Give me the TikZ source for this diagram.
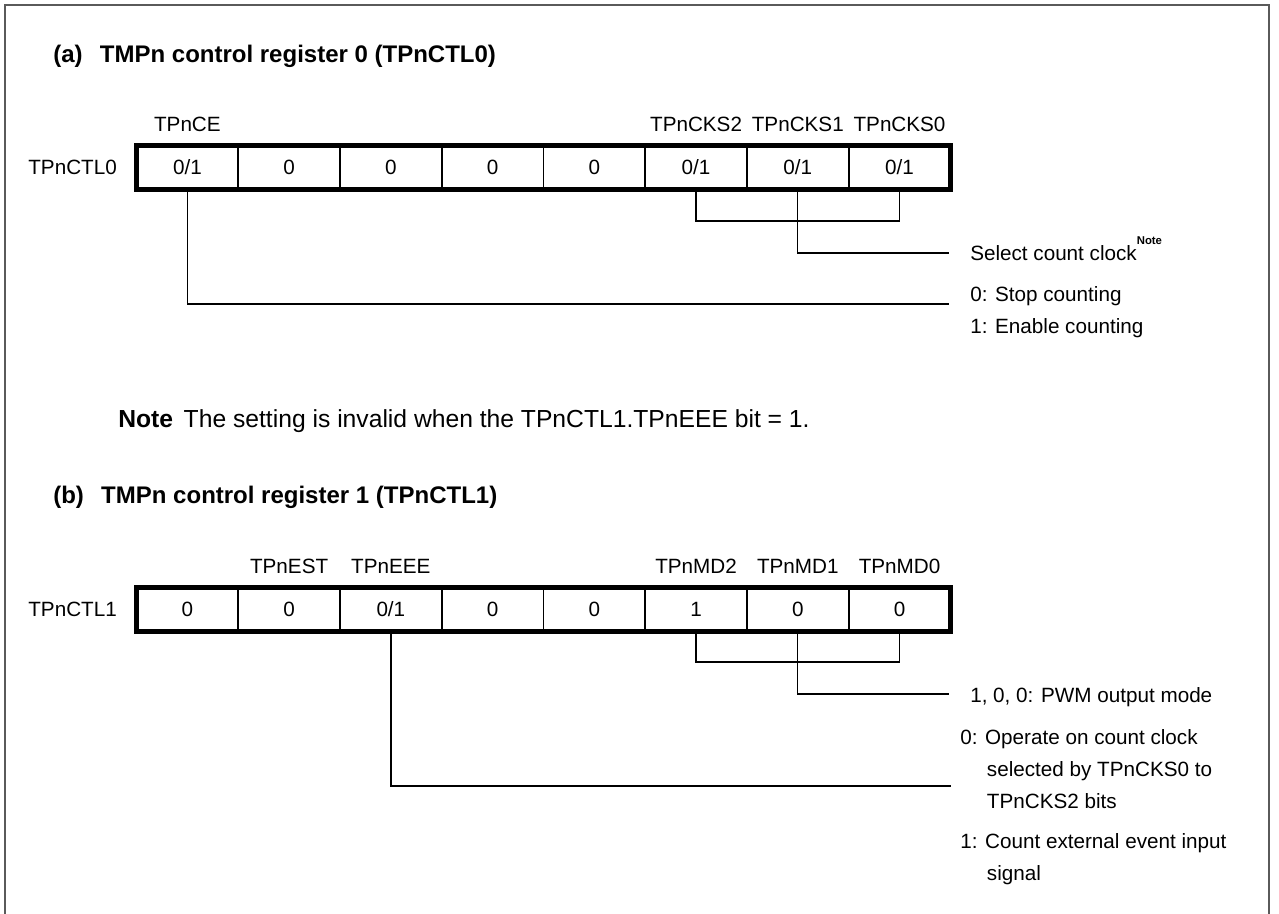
\documentclass[tikz,border=0pt]{standalone}
\usepackage{fontspec}
\setmainfont{Liberation Sans}
\usepackage{xcolor}
\usetikzlibrary{positioning}
\definecolor{framegray}{RGB}{90, 90, 90}

\begin{document}
\begin{tikzpicture}[
  x=0.75pt, y=-0.75pt,
  node distance=0pt,
  cell/.style={draw, line width=1.3pt, minimum width=76.3pt, minimum height=33pt,
               inner sep=0pt, outer sep=0pt, font=\fontsize{15.5}{18}\selectfont},
  bitname/.style={inner sep=0pt, text depth=0pt, font=\fontsize{15.5}{18}\selectfont},
  regname/.style={inner sep=0pt, font=\fontsize{15.5}{18}\selectfont},
  heading/.style={anchor=base west, inner sep=0pt, font=\fontsize{18}{21}\selectfont\bfseries},
  notetext/.style={anchor=base west, inner sep=0pt, font=\fontsize{18.5}{21}\selectfont},
  desc/.style={anchor=base west, inner sep=0pt, align=left, font=\fontsize{15.5}{24}\selectfont},
  regbox/.style={line width=3.75pt},
  wire/.style={line width=1pt}
]
  \useasboundingbox (0,0) rectangle (1279,914);
  \draw[framegray, line width=1.1pt] (5,914) -- (5,5) -- (1269,5) -- (1269,914);

  % (a) TPnCTL0
  \node[heading] (hdra) at (53,62) {(a)\hspace{13pt}TMPn control register 0 (TPnCTL0)};

  \node[cell] (ctl0b7) at (187.4,167.5) {0/1};
  \node[cell, right=of ctl0b7] (ctl0b6) {0};
  \node[cell, right=of ctl0b6] (ctl0b5) {0};
  \node[cell, right=of ctl0b5] (ctl0b4) {0};
  \node[cell, right=of ctl0b4] (ctl0b3) {0};
  \node[cell, right=of ctl0b3] (ctl0b2) {0/1};
  \node[cell, right=of ctl0b2] (ctl0b1) {0/1};
  \node[cell, right=of ctl0b1] (ctl0b0) {0/1};
  \draw[regbox] (ctl0b7.north west) rectangle (ctl0b0.south east);

  \node[regname, left=14.6pt of ctl0b7] (ctl0name) {TPnCTL0};
  \node[bitname, above=10pt of ctl0b7] (tpnce) {TPnCE};
  \node[bitname, above=10pt of ctl0b2] (tpncks2) {TPnCKS2};
  \node[bitname, above=10pt of ctl0b1] (tpncks1) {TPnCKS1};
  \node[bitname, above=10pt of ctl0b0] (tpncks0) {TPnCKS0};

  \coordinate (cksbar) at (0,221);
  \coordinate (cksend) at (949,253);
  \coordinate (ceend) at (949,304);
  \draw[wire] (ctl0b2.south) -- (ctl0b2.south |- cksbar) -- (ctl0b0.south |- cksbar) -- (ctl0b0.south);
  \draw[wire] (ctl0b1.south) |- (cksend);
  \draw[wire] (ctl0b7.south) |- (ceend);

  \node[desc] (selclk) at (970,260) {Select count clock\raisebox{1.4ex}{\fontsize{8.5}{9}\selectfont\bfseries Note}};
  \node[desc] (stopcnt) at (970,333) {0: Stop counting\\1: Enable counting};

  \node[notetext] (note) at (118,427) {\textbf{Note}\hspace{8pt}The setting is invalid when the TPnCTL1.TPnEEE bit = 1.};

  % (b) TPnCTL1
  \node[heading] (hdrb) at (53,503) {(b)\hspace{13pt}TMPn control register 1 (TPnCTL1)};

  \node[cell] (ctl1b7) at (187.4,609) {0};
  \node[cell, right=of ctl1b7] (ctl1b6) {0};
  \node[cell, right=of ctl1b6] (ctl1b5) {0/1};
  \node[cell, right=of ctl1b5] (ctl1b4) {0};
  \node[cell, right=of ctl1b4] (ctl1b3) {0};
  \node[cell, right=of ctl1b3] (ctl1b2) {1};
  \node[cell, right=of ctl1b2] (ctl1b1) {0};
  \node[cell, right=of ctl1b1] (ctl1b0) {0};
  \draw[regbox] (ctl1b7.north west) rectangle (ctl1b0.south east);

  \node[regname, left=14.6pt of ctl1b7] (ctl1name) {TPnCTL1};
  \node[bitname, above=10pt of ctl1b6] (tpnest) {TPnEST};
  \node[bitname, above=10pt of ctl1b5] (tpneee) {TPnEEE};
  \node[bitname, above=10pt of ctl1b2] (tpnmd2) {TPnMD2};
  \node[bitname, above=10pt of ctl1b1] (tpnmd1) {TPnMD1};
  \node[bitname, above=10pt of ctl1b0] (tpnmd0) {TPnMD0};

  \coordinate (mdbar) at (0,662);
  \coordinate (mdend) at (949,694);
  \coordinate (eeeend) at (951,786);
  \draw[wire] (ctl1b2.south) -- (ctl1b2.south |- mdbar) -- (ctl1b0.south |- mdbar) -- (ctl1b0.south);
  \draw[wire] (ctl1b1.south) |- (mdend);
  \draw[wire] (ctl1b5.south) |- (eeeend);

  \node[desc] (pwmmode) at (970,702) {1, 0, 0: PWM output mode};
  \node[desc] (opclk) at (960,808) {0: Operate on count clock\\\hspace*{20pt}selected by TPnCKS0 to\\\hspace*{20pt}TPnCKS2 bits};
  \node[desc] (extcnt) at (960,880) {1: Count external event input\\\hspace*{20pt}signal};
\end{tikzpicture}
\end{document}
